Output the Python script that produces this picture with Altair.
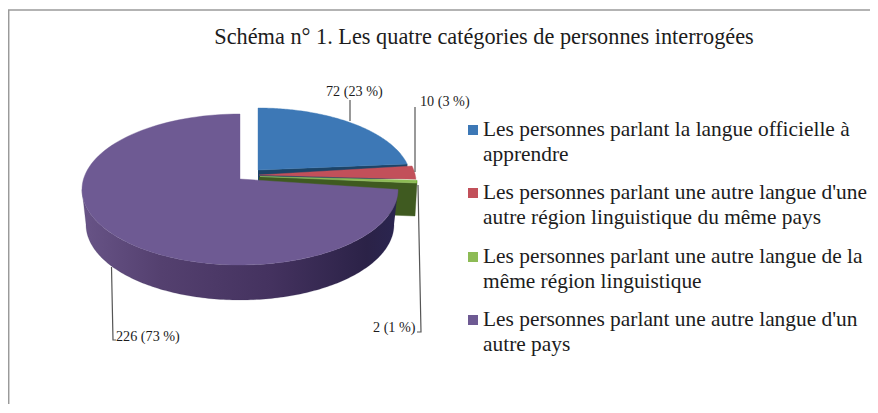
import numpy as np
import pandas as pd
import altair as alt

TITLE = "Schéma n° 1. Les quatre catégories de personnes interrogées"
VALUES = [72, 10, 2, 226]
LABELS = ["72 (23 %)", "10 (3 %)", "2 (1 %)", "226 (73 %)"]
LEGEND_LINES = [
    ["Les personnes parlant la langue officielle à", "apprendre"],
    ["Les personnes parlant une autre langue d'une", "autre région linguistique du même pays"],
    ["Les personnes parlant une autre langue de la", "même région linguistique"],
    ["Les personnes parlant une autre langue d'un", "autre pays"],
]
COLORS = ["#3d78b6", "#c2505a", "#8dbb55", "#6e5a93"]
FACE = {"blue": "#1c4468", "green": "#3f5a20"}

# Cumulative slice angles from the values, then the perspective warp of the tilted pie
total = sum(VALUES)
cum = np.cumsum([0] + VALUES) / total * 360
split = cum[3]


def warp(a):
    return np.interp(a, [0, split, 360], [0, 90, 360])


def ell(cx, cy, a, b, t):
    r = np.radians(t)
    return cx + a * np.sin(r), cy - b * np.cos(r)


def poly(xs, ys):
    return pd.DataFrame({"x": xs, "y": ys, "o": np.arange(len(xs))})


def sector(vx, vy, cx, cy, a, b, a0, a1):
    t = np.linspace(warp(a0), warp(a1), 120)
    x, y = ell(cx, cy, a, b, t)
    return poly(np.r_[vx, x, vx], np.r_[vy, y, vy])


X = alt.X("x:Q", axis=None, scale=alt.Scale(domain=[8, 870], range=[0, 862]))
Y = alt.Y("y:Q", axis=None, scale=alt.Scale(domain=[8, 404], range=[0, 396]))


def shape(df, fill, stroke=None, sw=0.4):
    return alt.Chart(df).mark_line(fill=fill, stroke=stroke or (fill if isinstance(fill, str) else "#4a3a66"),
                                   strokeWidth=sw, interpolate="linear").encode(x=X, y=Y, order="o:Q")


PCX, PCY, PA, PB = 240, 189.5, 158, 75.5
DEPTH = 35
layers = []

# frame
frame = pd.DataFrame({"x": [870, 8.7, 8.7], "y": [10, 10, 404], "o": [0, 1, 2]})
layers.append(alt.Chart(frame).mark_line(color="#9a9a9a", strokeWidth=1.5).encode(x=X, y=Y, order="o:Q"))

# blue: cut face + top
bx, by = ell(258, 180, 153, 72, warp(cum[1]))
layers.append(shape(poly([258, bx, bx, 258], [170, by, by + 14, 184]), FACE["blue"]))
layers.append(shape(sector(258, 170, 258, 180, 153, 72, cum[0], cum[1]), COLORS[0]))

# green: cut face + top sliver
gx, gy = ell(260, 183, 157, 72, warp(cum[3]))
layers.append(shape(poly([259, gx, gx - 2, 259], [177, gy, gy + 33, 210]), FACE["green"]))

# red top
layers.append(shape(sector(259, 175, 259, 182, 157, 72, cum[1], cum[2]), COLORS[1]))
layers.append(shape(sector(260, 176.5, 260, 183, 157, 72, cum[2], cum[3]), COLORS[2], sw=0.6))

# purple side with gradient
tt = np.linspace(90, 270, 160)
xt, yt = ell(PCX, PCY, PA, PB, tt)
xb, yb = ell(PCX, PCY + DEPTH, PA - 4, PB, tt)
side_grad = alt.LinearGradient(
    gradient="linear", x1=0, x2=1, y1=0, y2=0,
    stops=[
        alt.GradientStop(offset=0, color="#685487"),
        alt.GradientStop(offset=0.25, color="#54406f"),
        alt.GradientStop(offset=0.6, color="#44325f"),
        alt.GradientStop(offset=0.9, color="#2b2247"),
        alt.GradientStop(offset=1, color="#2a2550"),
    ],
)
layers.append(shape(poly(np.r_[xt, xb[::-1]], np.r_[yt, yb[::-1]]), side_grad, stroke="#3a2d55", sw=0.2))

# purple top
layers.append(shape(sector(240, 179, PCX, PCY, PA, PB, cum[3], cum[4]), COLORS[3]))

# leader lines
leaders = [
    ([350, 350], [121, 100]),
    ([415, 415], [172, 107]),
    ([418, 421, 417], [185, 332, 332]),
    ([111.5, 113, 116], [267, 340, 340]),
]
for lx, ly in leaders:
    layers.append(alt.Chart(poly(lx, ly)).mark_line(color="#555555", strokeWidth=1.2).encode(x=X, y=Y, order="o:Q"))


def text(df, size, color="#1c1c1c", align="left"):
    return alt.Chart(df).mark_text(font="Liberation Serif", fontSize=size, color=color, align=align,
                                   baseline="middle").encode(x=X, y=Y, text="t:N")


layers.append(text(pd.DataFrame({"x": [484], "y": [37], "t": [TITLE]}), 22.3, align="center"))
layers.append(text(pd.DataFrame({"x": [326, 420, 373, 116], "y": [92, 102, 328, 337], "t": LABELS}), 14.2))

ys = [[130, 155], [193, 218], [257, 282], [320, 345]]
legend_rows = [{"x": 483, "y": y, "t": s} for pair, yy in zip(LEGEND_LINES, ys) for s, y in zip(pair, yy)]
layers.append(text(pd.DataFrame(legend_rows), 21.4))

sq = pd.DataFrame({"x": [473] * 4, "y": [p[0] for p in ys], "c": COLORS})
layers.append(alt.Chart(sq).mark_square(size=100, opacity=1).encode(x=X, y=Y, color=alt.Color("c:N", scale=None)))

chart = alt.layer(*layers).properties(
    width=862, height=396, padding=0, background="white",
    autosize=alt.AutoSizeParams(type="none"),
).configure_view(stroke=None)
chart.save("out.html", embed_options={"renderer": "svg", "actions": False})
